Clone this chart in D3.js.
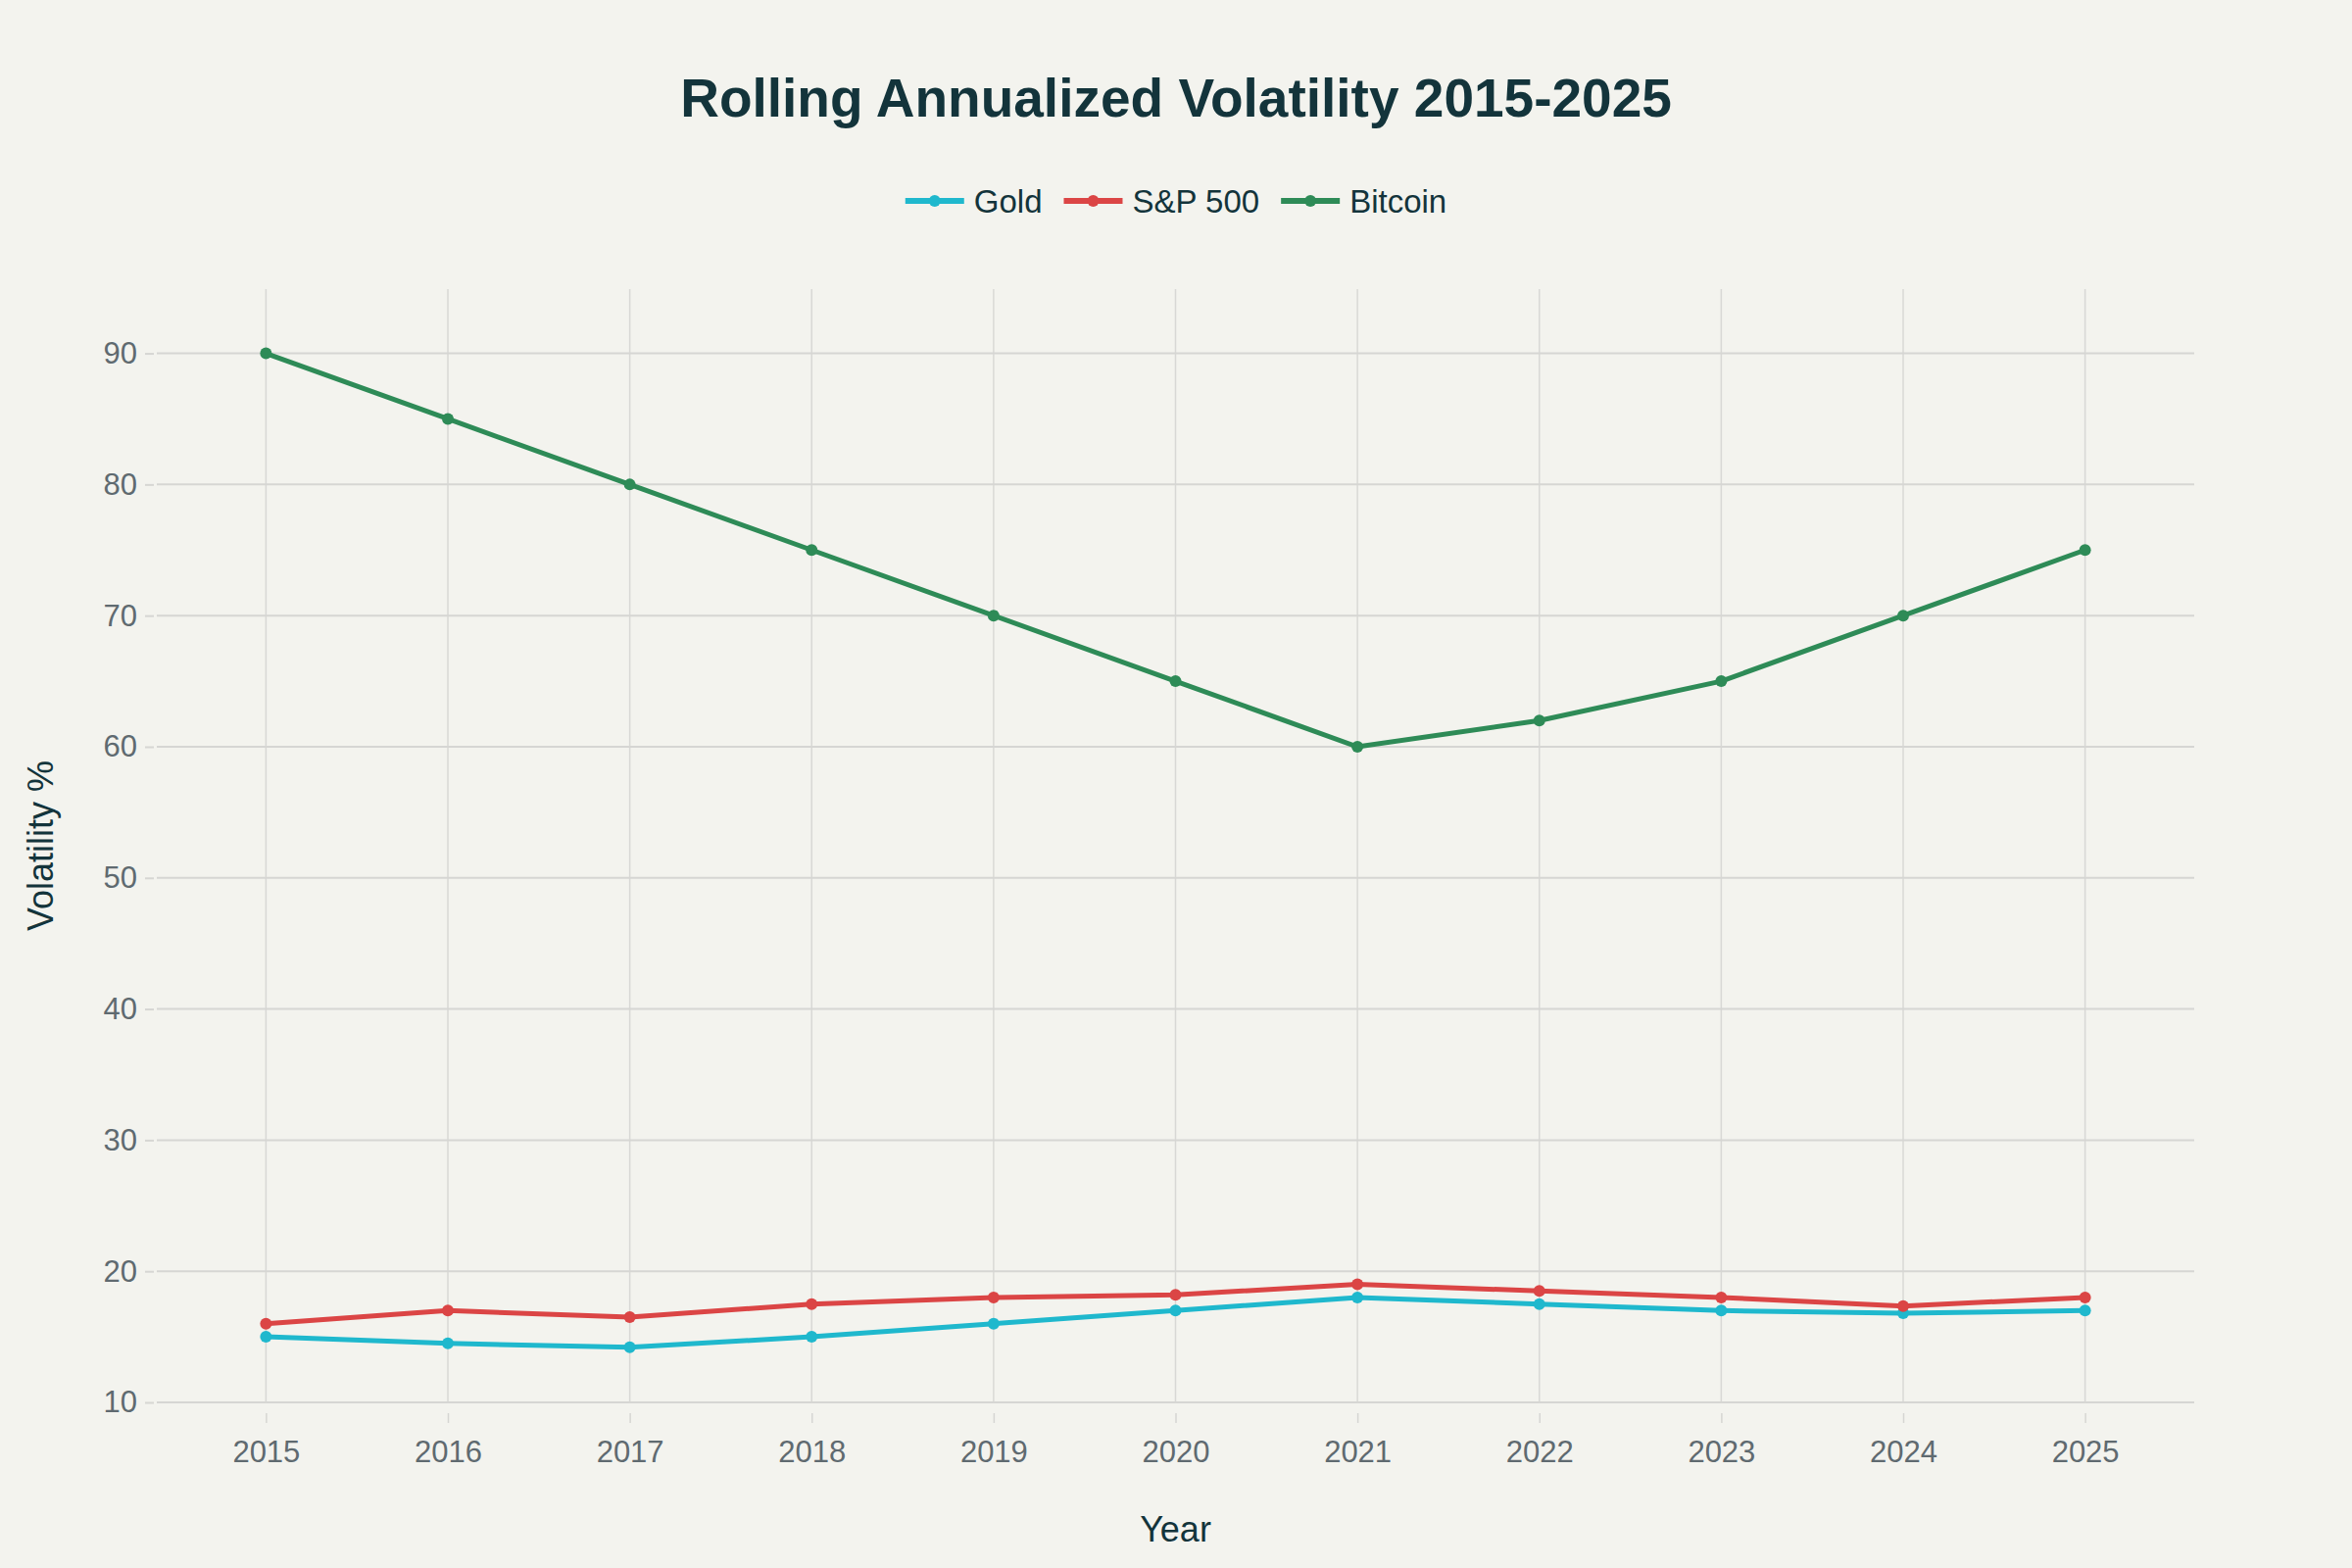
<!DOCTYPE html>
<html>
<head>
<meta charset="utf-8">
<script src="https://cdn.jsdelivr.net/npm/d3@7"></script>
<style>
  html, body { margin: 0; padding: 0; background: #F3F3EE; }
  svg { display: block; }
  text { font-family: "Liberation Sans", Arial, sans-serif; }
</style>
</head>
<body>
<div id="chart"></div>
<script>
// data
var years = [2015, 2016, 2017, 2018, 2019, 2020, 2021, 2022, 2023, 2024, 2025];
var gold = [15, 14.5, 14.2, 15, 16, 17, 18, 17.5, 17, 16.8, 17];
var sp500 = [16, 17, 16.5, 17.5, 18, 18.2, 19, 18.5, 18, 17.35, 18];
var bitcoin = [90, 85, 80, 75, 70, 65, 60, 62, 65, 70, 75];
var yTicks = [10, 20, 30, 40, 50, 60, 70, 80, 90];

var series = [
  { name: 'Gold', values: gold, color: '#1FB8CD' },
  { name: 'S&P 500', values: sp500, color: '#DB4545' },
  { name: 'Bitcoin', values: bitcoin, color: '#2E8B57' }
];

var W = 2400, H = 1600;
// plot area edges (note: "top" is taken by window.top)
var pLeft = 160, pRight = 2239, pTop = 295, pBottom = 1431;

var svg = d3.select('#chart').append('svg')
  .attr('width', W).attr('height', H);

svg.append('rect').attr('width', W).attr('height', H).attr('fill', '#F3F3EE');

var x = d3.scaleLinear().domain([2014.4, 2025.6]).range([pLeft, pRight]);
var y = d3.scaleLinear().domain([10, 94.9]).range([pBottom, pTop]);

// grid
var grid = svg.append('g');
grid.selectAll('.vg').data(years).enter().append('line')
  .attr('x1', function (d) { return x(d); }).attr('x2', function (d) { return x(d); })
  .attr('y1', pTop).attr('y2', pBottom)
  .attr('stroke', '#D8D8D5').attr('stroke-width', 1.5);
grid.selectAll('.hg').data(yTicks).enter().append('line')
  .attr('x1', pLeft).attr('x2', pRight)
  .attr('y1', function (d) { return y(d); }).attr('y2', function (d) { return y(d); })
  .attr('stroke', '#D6D6D3').attr('stroke-width', 2);

// x axis
var xAxis = d3.axisBottom(x).tickValues(years).tickFormat(d3.format('d'))
  .tickSize(10).tickPadding(18);
var gx = svg.append('g').attr('transform', 'translate(0,' + (pBottom + 11) + ')').call(xAxis);
gx.select('.domain').remove();
gx.selectAll('.tick line').attr('stroke', '#D6D6D3').attr('stroke-width', 1.5);
gx.selectAll('.tick text').attr('fill', '#5F6A70').attr('font-size', 31);

// y axis
var yAxis = d3.axisLeft(y).tickValues(yTicks).tickSize(9).tickPadding(8);
var gy = svg.append('g').attr('transform', 'translate(' + (pLeft - 3) + ',0)').call(yAxis);
gy.select('.domain').remove();
gy.selectAll('.tick line').attr('stroke', '#D6D6D3').attr('stroke-width', 2);
gy.selectAll('.tick text').attr('fill', '#5F6A70').attr('font-size', 31);

// lines
var line = d3.line()
  .x(function (d, i) { return x(years[i]); })
  .y(function (d) { return y(d); });

series.forEach(function (s) {
  var g = svg.append('g');
  g.append('path').datum(s.values)
    .attr('d', line)
    .attr('fill', 'none')
    .attr('stroke', s.color)
    .attr('stroke-width', 5)
    .attr('stroke-linejoin', 'round');
  g.selectAll('circle').data(s.values).enter().append('circle')
    .attr('cx', function (d, i) { return x(years[i]); })
    .attr('cy', function (d) { return y(d); })
    .attr('r', 6)
    .attr('fill', s.color);
});

// title
svg.append('text')
  .attr('x', W / 2).attr('y', 119)
  .attr('text-anchor', 'middle')
  .attr('font-size', 55).attr('font-weight', 'bold')
  .attr('fill', '#13343B')
  .text('Rolling Annualized Volatility 2015-2025');

// axis titles
svg.append('text')
  .attr('x', (pLeft + pRight) / 2).attr('y', 1573)
  .attr('text-anchor', 'middle')
  .attr('font-size', 36).attr('fill', '#13343B')
  .text('Year');

svg.append('text')
  .attr('transform', 'translate(54,' + ((pTop + pBottom) / 2) + ') rotate(-90)')
  .attr('text-anchor', 'middle')
  .attr('font-size', 36).attr('fill', '#13343B')
  .text('Volatility %');

// legend
var legend = svg.append('g');
var ly = 205, swatch = 60, gap = 10, itemGap = 22;
var items = legend.selectAll('g').data(series).enter().append('g');
items.append('line')
  .attr('x1', 0).attr('x2', swatch).attr('y1', ly).attr('y2', ly)
  .attr('stroke', function (d) { return d.color; }).attr('stroke-width', 6);
items.append('circle')
  .attr('cx', swatch / 2).attr('cy', ly).attr('r', 6)
  .attr('fill', function (d) { return d.color; });
items.append('text')
  .attr('x', swatch + gap).attr('y', ly + 12)
  .attr('font-size', 33).attr('fill', '#13343B')
  .text(function (d) { return d.name; });

var widths = [];
items.each(function () {
  widths.push(swatch + gap + d3.select(this).select('text').node().getComputedTextLength());
});
var total = d3.sum(widths) + itemGap * (widths.length - 1);
var cx = W / 2 - total / 2;
items.attr('transform', function (d, i) {
  var t = 'translate(' + cx + ',0)';
  cx += widths[i] + itemGap;
  return t;
});
</script>
</body>
</html>
